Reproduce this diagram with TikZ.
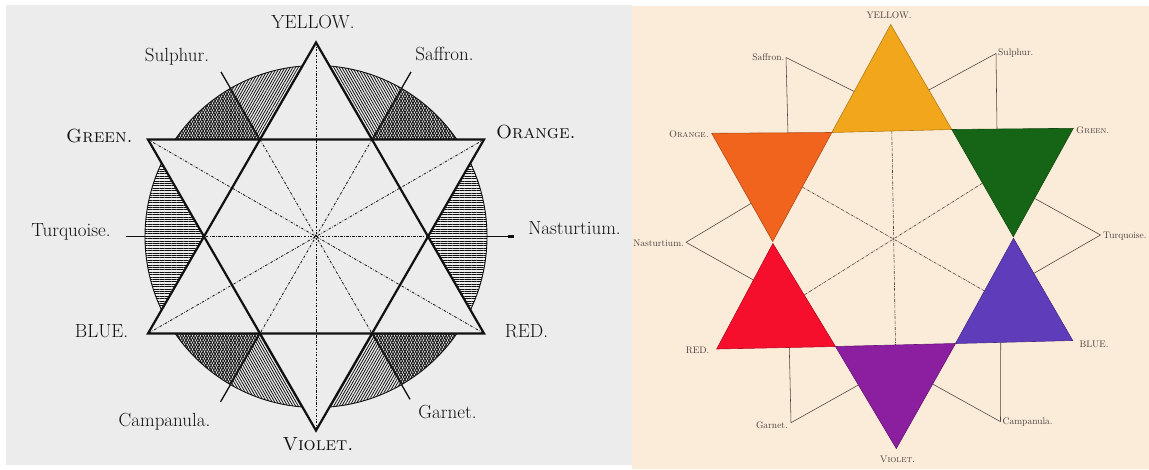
\documentclass[tikz,border=0pt]{standalone}
\usepackage{fontspec}
\usetikzlibrary{calc,patterns.meta}
\definecolor{bgL}{HTML}{ECECEC}
\definecolor{bgR}{HTML}{FAECD8}
\definecolor{cYellow}{HTML}{F1A61C}
\definecolor{cOrange}{HTML}{F0641E}
\definecolor{cGreen}{HTML}{166416}
\definecolor{cRed}{HTML}{F50F2D}
\definecolor{cBlue}{HTML}{5F3CB9}
\definecolor{cViolet}{HTML}{8C1EA0}
\definecolor{ink}{HTML}{111111}
\definecolor{inkR}{HTML}{4A4040}
\tikzset{
  Llabel/.style={font=\fontsize{19}{21}\selectfont\addfontfeature{FakeBold=0.7}, text=ink, inner sep=0pt, anchor=base},
  Rlabel/.style={font=\fontsize{9.5}{11}\selectfont, text=inkR, inner sep=0pt, anchor=base},
  tri/.style={draw=ink, line width=2.2pt, line join=miter},
  lead/.style={draw=ink, line width=1.3pt},
  leadH/.style={draw=ink, line width=1.8pt},
  dashL/.style={draw=ink, line width=0.8pt, dash pattern=on 2.5pt off 1.5pt on 0.6pt off 1.5pt},
  dashR/.style={draw=inkR, line width=0.6pt, dash pattern=on 3pt off 1pt on 0.6pt off 1pt},
  leadR/.style={draw=inkR, line width=0.55pt},
  hatchA/.style={pattern={Lines[angle=60,distance=2.3pt,line width=0.8pt]}, pattern color=ink},
  hatchB/.style={pattern={Lines[angle=-60,distance=2.3pt,line width=0.8pt]}, pattern color=ink},
  hatchH/.style={pattern={Lines[angle=0,distance=2.4pt,line width=0.85pt]}, pattern color=ink},
  paper/.style={line width=0.6pt, line join=miter}
}
\begin{document}
\begin{tikzpicture}[x=1pt,y=-1pt]
\useasboundingbox (0,0) rectangle (1149,469);
\fill[white] (0,0) rectangle (1149,469);
\fill[bgL] (6,5) rectangle (632,465);
\fill[bgR] (632,6) rectangle (1149,469);

% ---------------- LEFT PANEL ----------------
\coordinate (LC) at (316,236.5);
\coordinate (LY) at ($(LC)+(90:194pt)$);
\coordinate (LR) at ($(LC)+(-30:194pt)$);
\coordinate (LB) at ($(LC)+(210:194pt)$);
\coordinate (LG) at ($(LC)+(150:194pt)$);
\coordinate (LO) at ($(LC)+(30:194pt)$);
\coordinate (LV) at ($(LC)+(270:194pt)$);
\coordinate (H0) at ($(LC)+(0:112pt)$);
\coordinate (H60) at ($(LC)+(60:112pt)$);
\coordinate (H120) at ($(LC)+(120:112pt)$);
\coordinate (H180) at ($(LC)+(180:112pt)$);
\coordinate (H240) at ($(LC)+(240:112pt)$);
\coordinate (H300) at ($(LC)+(300:112pt)$);

\begin{scope}
  \clip (LC) circle [radius=171pt];
  % Sulphur
  \fill[hatchA] (LC) -- ($(LC)+(90:260pt)$) -- ($(LC)+(150:260pt)$) -- cycle;
  \fill[hatchB] (LC) -- ($(LC)+(120:260pt)$) -- ($(LC)+(150:260pt)$) -- cycle;
  % Saffron
  \fill[hatchB] (LC) -- ($(LC)+(30:260pt)$) -- ($(LC)+(90:260pt)$) -- cycle;
  \fill[hatchA] (LC) -- ($(LC)+(30:260pt)$) -- ($(LC)+(60:260pt)$) -- cycle;
  % Turquoise and Nasturtium
  \fill[hatchH] (LC) -- ($(LC)+(150:260pt)$) -- ($(LC)+(210:260pt)$) -- cycle;
  \fill[hatchH] (LC) -- ($(LC)+(-30:260pt)$) -- ($(LC)+(30:260pt)$) -- cycle;
  % Campanula
  \fill[hatchB] (LC) -- ($(LC)+(210:260pt)$) -- ($(LC)+(270:260pt)$) -- cycle;
  \fill[hatchA] (LC) -- ($(LC)+(210:260pt)$) -- ($(LC)+(240:260pt)$) -- cycle;
  % Garnet
  \fill[hatchA] (LC) -- ($(LC)+(270:260pt)$) -- ($(LC)+(330:260pt)$) -- cycle;
  \fill[hatchB] (LC) -- ($(LC)+(300:260pt)$) -- ($(LC)+(330:260pt)$) -- cycle;
\end{scope}
\draw[ink, line width=0.9pt] (LC) circle [radius=171pt];
\fill[bgL] (LY) -- (LR) -- (LB) -- cycle;
\fill[bgL] (LG) -- (LO) -- (LV) -- cycle;

\draw[dashL] (LY) -- (LV);
\draw[dashL] (LG) -- (LR);
\draw[dashL] (LO) -- (LB);
\draw[dashL] (H0) -- (H180);
\draw[dashL] (H60) -- (H240);
\draw[dashL] (H120) -- (H300);

\draw[tri] (LY) -- (LR) -- (LB) -- cycle;
\draw[tri] (LG) -- (LO) -- (LV) -- cycle;

\coordinate (lSulE) at ($(LC)+(120:190pt)$);
\coordinate (lSafE) at ($(LC)+(60:190pt)$);
\coordinate (lCamE) at ($(LC)+(240:191pt)$);
\coordinate (lGarE) at ($(LC)+(300:188pt)$);
\coordinate (lTurE) at ($(LC)+(180:190pt)$);
\coordinate (lNasE) at ($(LC)+(0:198pt)$);
\coordinate (lNasK) at ($(LC)+(0:192pt)$);
\draw[lead] (H120) -- (lSulE);
\draw[lead] (H60) -- (lSafE);
\draw[lead] (H240) -- (lCamE);
\draw[lead] (H300) -- (lGarE);
\draw[leadH] (H180) -- (lTurE);
\draw[leadH] (H0) -- (lNasE);
\draw[ink, line width=3pt] (lNasK) -- (lNasE);

\node[Llabel] (lYel) at (313,28) {YELLOW.};
\node[Llabel] (lSul) at (177,61) {Sulphur.};
\node[Llabel] (lSaf) at (444.5,60) {Saffron.};
\node[Llabel] (lGre) at (99.5,142) {\textsc{Green.}};
\node[Llabel] (lOra) at (536,138) {\textsc{Orange.}};
\node[Llabel] (lTur) at (71,236) {Turquoise.};
\node[Llabel] (lNas) at (574.5,234) {Nasturtium.};
\node[Llabel] (lBlu) at (101.5,337) {BLUE.};
\node[Llabel] (lRed) at (526.5,337) {RED.};
\node[Llabel] (lCam) at (164.5,426) {Campanula.};
\node[Llabel] (lGar) at (447.5,418) {Garnet.};
\node[Llabel] (lVio) at (318,450) {\textsc{Violet.}};

% ---------------- RIGHT PANEL ----------------
\coordinate (yT) at (890.7,24.5);
\coordinate (h1) at (831.8,132.5);
\coordinate (h2) at (951.8,129.5);
\coordinate (gT) at (1073.3,128.3);
\coordinate (gB) at (1013.3,236.7);
\coordinate (bA) at (1013.5,238.3);
\coordinate (bT) at (1072.7,340.5);
\coordinate (h4) at (955.5,343.5);
\coordinate (vT) at (896.3,448.5);
\coordinate (h5) at (835.5,346.5);
\coordinate (rT) at (716.7,349);
\coordinate (rA) at (772.9,243.5);
\coordinate (oB) at (772.7,241.5);
\coordinate (oT) at (711.7,133.3);

\draw[dashR] ($(h1)!0.5!(h2)$) -- ($(h4)!0.5!(h5)$);
\draw[dashR] ($(oB)!0.5!(h1)$) -- ($(bA)!0.5!(h4)$);
\draw[dashR] ($(h2)!0.5!(gB)$) -- ($(h5)!0.5!(rA)$);

\filldraw[paper, fill=cYellow, draw=cYellow!75!black] (yT) -- (h2) -- (h1) -- cycle;
\filldraw[paper, fill=cGreen, draw=cGreen!75!black] (h2) -- (gT) -- (gB) -- cycle;
\filldraw[paper, fill=cBlue, draw=cBlue!75!black] (bA) -- (bT) -- (h4) -- cycle;
\filldraw[paper, fill=cViolet, draw=cViolet!75!black] (h5) -- (h4) -- (vT) -- cycle;
\filldraw[paper, fill=cRed, draw=cRed!75!black] (rA) -- (h5) -- (rT) -- cycle;
\filldraw[paper, fill=cOrange, draw=cOrange!75!black] (oT) -- (h1) -- (oB) -- cycle;

\coordinate (saA) at (786,57.5);
\coordinate (suA) at (996,53.5);
\coordinate (tuA) at (1100.5,235);
\coordinate (caA) at (1000.5,421.7);
\coordinate (gaA) at (791,422.7);
\coordinate (naA) at (686,242.3);
\draw[leadR] (saA) -- ($(h1)!0.38!(yT)$);
\draw[leadR] (saA) -- ($(h1)!0.365!(oT)$);
\draw[leadR] (suA) -- ($(h2)!0.376!(yT)$);
\draw[leadR] (suA) -- ($(h2)!0.372!(gT)$);
\draw[leadR] (tuA) -- ($(gB)!0.354!(gT)$);
\draw[leadR] (tuA) -- ($(bA)!0.343!(bT)$);
\draw[leadR] (caA) -- ($(h4)!0.386!(bT)$);
\draw[leadR] (caA) -- ($(h4)!0.386!(vT)$);
\draw[leadR] (gaA) -- ($(h5)!0.389!(rT)$);
\draw[leadR] (gaA) -- ($(h5)!0.377!(vT)$);
\draw[leadR] (naA) -- ($(oB)!0.353!(oT)$);
\draw[leadR] (naA) -- ($(rA)!0.346!(rT)$);

\node[Rlabel] (rYel) at (889,18.3) {YELLOW.};
\node[Rlabel, anchor=base east] (rSaf) at (784.5,60) {Saffron.};
\node[Rlabel, anchor=base west] (rSul) at (998,55.5) {Sulphur.};
\node[Rlabel, anchor=base east] (rOra) at (709,137.5) {\textsc{Orange.}};
\node[Rlabel, anchor=base west] (rGre) at (1076,133) {\textsc{Green.}};
\node[Rlabel, anchor=base east] (rNas) at (684,246) {Nasturtium.};
\node[Rlabel, anchor=base west] (rTur) at (1103,238) {Turquoise.};
\node[Rlabel] (rRed) at (697.5,353) {RED.};
\node[Rlabel] (rBlu) at (1094,347) {BLUE.};
\node[Rlabel, anchor=base east] (rGar) at (788,428.5) {Garnet.};
\node[Rlabel, anchor=base west] (rCam) at (1002.5,424) {Campanula.};
\node[Rlabel] (rVio) at (897.5,462) {\textsc{Violet.}};
\end{tikzpicture}
\end{document}
